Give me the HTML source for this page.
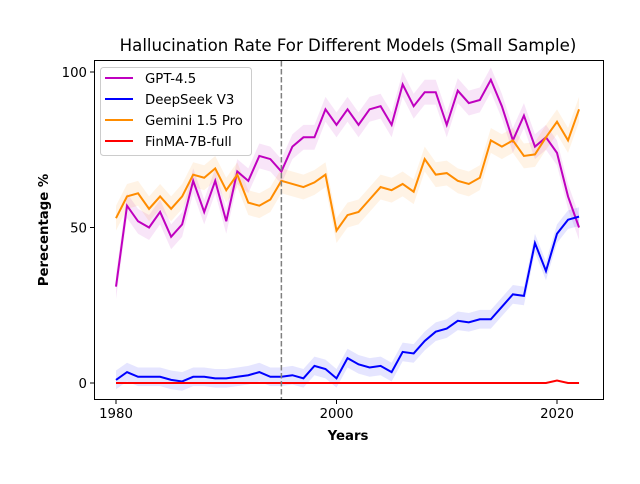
<!DOCTYPE html>
<html><head><meta charset="utf-8"><style>
body{margin:0;background:#fff;font-family:"DejaVu Sans","Liberation Sans",sans-serif}
svg text{font-family:"DejaVu Sans","Liberation Sans",sans-serif}
</style></head><body>
<svg id="chart" width="640" height="480" xmlns="http://www.w3.org/2000/svg"></svg>
<script>
const years=[];for(let y=1980;y<=2022;y++)years.push(y);
const gpt=[31,57,52,50,55,47,51,65,55,65,52,68,65,73,72,68,76,79,79,88,83,88,83,88,89,83,96,89,93.5,93.5,83,94,90,91,97.5,89,78,86,76,79,74,60,50];
const gemini=[53,60,61,56,60,56,60,67,66,69,62,67,58,57,59,65,64,63,64.5,67,49,54,55,59,63,62,64,61.5,72,67,67.5,65,64,66,78,76,78,73,73.5,79,84,78,88];
const deepseek=[1,3.5,2,2,2,1,0.5,2,2,1.5,1.5,2,2.5,3.5,2,2,2.5,1.5,5.5,4.5,1.5,8,6,5,5.5,3.5,10,9.5,13.5,16.5,17.5,20,19.5,20.5,20.5,24.5,28.5,28,45,36,48,52.5,53.5];
const finma=[0,0,0,0,0,0,0,0,0,0,0,0,0,0,0,0,0,0,0,0,0,0,0,0,0,0,0,0,0,0,0,0,0,0,0,0,0,0,0,0,0.8,0,0];
const xTicks=[1980,2000,2020];
const yTicks=[0,50,100];
const svg=document.getElementById('chart');
const NS='http://www.w3.org/2000/svg';
const X=v=>116+(v-1980)*11.025;
const Y=v=>383-v*3.11;
function mk(t,a,p){const e=document.createElementNS(NS,t);for(const k in a)e.setAttribute(k,a[k]);(p||svg).appendChild(e);return e;}
const series=[
 {name:'GPT-4.5',data:gpt,c:'#bf00bf',band:4,key:'gpt'},
 {name:'DeepSeek V3',data:deepseek,c:'#0000ff',band:3,key:'deepseek'},
 {name:'Gemini 1.5 Pro',data:gemini,c:'#ff8c00',band:4,key:'gemini'},
 {name:'FinMA-7B-full',data:finma,c:'#ff0000',band:0,key:'finma'}];
series.forEach(s=>{
 if(s.band>0){
  let up=years.map((y,i)=>X(y)+','+Y(s.data[i]+s.band));
  let dn=years.map((y,i)=>X(y)+','+Y(s.data[i]-s.band)).reverse();
  const b=mk('polygon',{points:up.concat(dn).join(' '),fill:s.c,'fill-opacity':0.1});
  
  
 }
});
series.forEach(s=>{
 const l=mk('polyline',{points:years.map((y,i)=>X(y)+','+Y(s.data[i])).join(' '),fill:'none',stroke:s.c,'stroke-width':2});
 
 
});
const vl=mk('line',{x1:X(1995),x2:X(1995),y1:61,y2:400,stroke:'#808080','stroke-width':1.5,'stroke-dasharray':'5.5,2.5'});


const fr=mk('rect',{x:94.5,y:60.5,width:509,height:339,fill:'none',stroke:'#000','stroke-width':1});


xTicks.forEach(t=>{
 mk('line',{x1:X(t),x2:X(t),y1:400,y2:404,stroke:'#000'});
 const tx=mk('text',{x:X(t),y:418,'text-anchor':'middle','font-size':13.3});tx.textContent=t;
 
 
});
yTicks.forEach(t=>{
 mk('line',{x1:90,x2:94,y1:Y(t),y2:Y(t),stroke:'#000'});
 const tx=mk('text',{x:87,y:Y(t)+5,'text-anchor':'end','font-size':13.3});tx.textContent=t;
 
 
});
const ti=mk('text',{x:348,y:51,'text-anchor':'middle','font-size':16.6});ti.textContent='Hallucination Rate For Different Models (Small Sample)';


const xt=mk('text',{x:348,y:440,'text-anchor':'middle','font-size':13.3,'font-weight':'bold'});xt.textContent='Years';


const yt=mk('text',{x:0,y:0,'text-anchor':'middle','font-size':13.3,'font-weight':'bold',transform:'translate(48,230) rotate(-90)'});yt.textContent='Perecentage %';


const lg=mk('g',{});


mk('rect',{x:100.5,y:67.5,width:151,height:88,rx:3,fill:'#fff','fill-opacity':0.8,stroke:'#ccc'},lg);
series.forEach((s,i)=>{
 const yy=78+i*21;
 const g=mk('g',{},lg);
 
 
 mk('line',{x1:105,x2:133,y1:yy,y2:yy,stroke:s.c,'stroke-width':2},g);
 const t=mk('text',{x:145,y:yy+5,'font-size':13.3},g);t.textContent=s.name;
});
</script>
</body></html>
